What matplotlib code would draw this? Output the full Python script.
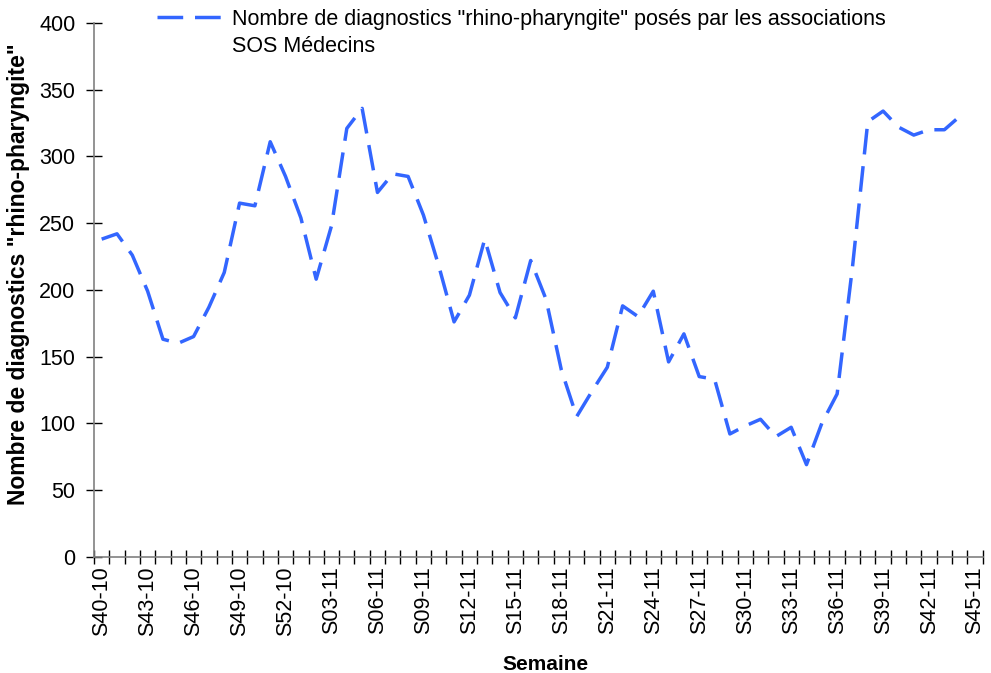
import matplotlib
matplotlib.use("Agg")
import matplotlib.pyplot as plt
import numpy as np

plt.rcParams['font.family'] = ['Liberation Sans', 'DejaVu Sans']
plt.rcParams['lines.scale_dashes'] = False

categories = [
    "S40-10", "S41-10", "S42-10", "S43-10", "S44-10", "S45-10", "S46-10", "S47-10",
    "S48-10", "S49-10", "S50-10", "S51-10", "S52-10",
    "S01-11", "S02-11", "S03-11", "S04-11", "S05-11", "S06-11", "S07-11", "S08-11",
    "S09-11", "S10-11", "S11-11", "S12-11", "S13-11", "S14-11", "S15-11", "S16-11",
    "S17-11", "S18-11", "S19-11", "S20-11", "S21-11", "S22-11", "S23-11", "S24-11",
    "S25-11", "S26-11", "S27-11", "S28-11", "S29-11", "S30-11", "S31-11", "S32-11",
    "S33-11", "S34-11", "S35-11", "S36-11", "S37-11", "S38-11", "S39-11", "S40-11",
    "S41-11", "S42-11", "S43-11", "S44-11", "S45-11",
]

values = [
    238, 242, 226, 199, 163, 160, 165, 187, 213, 265, 263, 311, 285,
    254, 208, 248, 321, 336, 273, 287, 285, 256, 218, 176, 196, 238, 198,
    179, 222, 193, 140, 105, 124, 142, 188, 180, 199, 146, 167, 135, 133,
    92, 98, 103, 90, 97, 69, 100, 122, 217, 326, 334, 322, 316, 320, 320, 330,
]

tick_labels = ["S40-10", "S43-10", "S46-10", "S49-10", "S52-10", "S03-11", "S06-11",
               "S09-11", "S12-11", "S15-11", "S18-11", "S21-11", "S24-11", "S27-11",
               "S30-11", "S33-11", "S36-11", "S39-11", "S42-11", "S45-11"]

series_label_line1 = 'Nombre de diagnostics "rhino-pharyngite" posés par les associations'
series_label_line2 = 'SOS Médecins'

W, H = 991, 673
fig = plt.figure(figsize=(W / 100, H / 100), dpi=100)
ax = fig.add_axes([94 / W, 1 - 556.7 / H, (982.7 - 94) / W, (556.7 - 23) / H])

x = np.arange(len(values))
line, = ax.plot(x, values, color='#3366ff', linewidth=2.5, dashes=(18.5, 8.5),
                dash_capstyle='butt', solid_capstyle='butt', label=series_label_line1)

ax.set_xlim(-0.5, len(categories) - 0.5)
ax.set_ylim(0, 400)

pos = [categories.index(t) for t in tick_labels]
ax.set_xticks(pos)
ax.set_xticklabels(tick_labels, rotation=90, fontsize=15.5)
ax.tick_params(axis='x', which='major', length=0, pad=7)
ax.set_xticks(np.arange(len(categories) + 1) - 0.5, minor=True)
ax.tick_params(axis='x', which='minor', direction='inout', length=10, width=1, color='black')

ax.set_yticks(np.arange(0, 401, 50))
ax.tick_params(axis='y', direction='inout', length=11, width=1, color='black', labelsize=15.5, pad=8)

for s in ['top', 'right']:
    ax.spines[s].set_visible(False)
for s in ['left', 'bottom']:
    ax.spines[s].set_color('#808080')
    ax.spines[s].set_linewidth(1.2)

fig.text(19 / W, 1 - 274 / H, 'Nombre de diagnostics "rhino-pharyngite"', rotation=90,
         ha='center', va='center', fontsize=16.5, fontweight='bold')
fig.text(545 / W, 1 - 664 / H, 'Semaine', ha='center', va='center', fontsize=15,
         fontweight='bold')

leg = fig.legend(handles=[line], loc='upper left', bbox_to_anchor=(157 / W, 1 - 9 / H),
                 frameon=False, fontsize=15.5, borderpad=0, borderaxespad=0,
                 handlelength=3.0, handletextpad=0.5)

fig.canvas.draw()
bb = leg.get_texts()[0].get_window_extent()
fig.text(bb.x0 / W, (bb.y0 - 27) / H, series_label_line2, ha='left', va='bottom',
         fontsize=15.5)

fig.savefig('out.png', dpi=100)
